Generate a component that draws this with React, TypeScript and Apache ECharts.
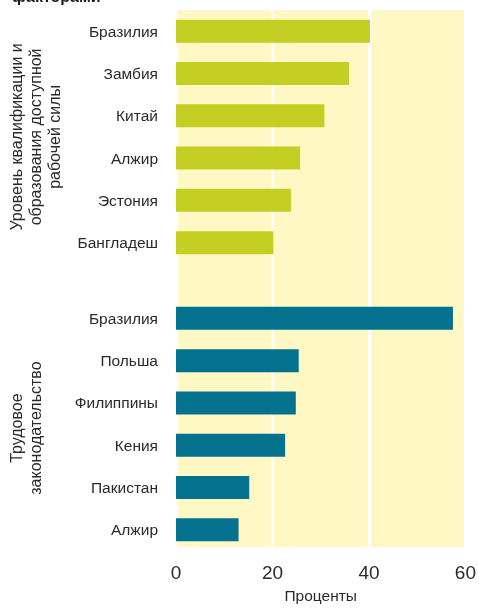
import React, { useEffect, useRef } from "react";
import * as echarts from "echarts";

const skillCountries = ["Бразилия", "Замбия", "Китай", "Алжир", "Эстония", "Бангладеш"];
const skillValues = [40.0, 35.7, 30.6, 25.6, 23.7, 20.1];
const laborCountries = ["Бразилия", "Польша", "Филиппины", "Кения", "Пакистан", "Алжир"];
const laborValues = [57.1, 25.3, 24.7, 22.5, 15.1, 12.9];
const xTicks = [0, 20, 40, 60];
const groupLabels = ["Уровень квалификации и\nобразования доступной\nрабочей силы", "Трудовое\nзаконодательство"];
const titleText = "факторами";
const xAxisTitle = "Проценты";

const FONT = "'Liberation Sans', Arial, Helvetica, sans-serif";
const LIME = "#C4CE23";
const TEAL = "#04728F";
const BG = "#FFF8C4";
const TEXT = "#2a2a2a";

export default function App() {
  const ref = useRef<HTMLDivElement>(null);
  useEffect(() => {
    if (!ref.current) return;
    const chart = echarts.init(ref.current, null, { renderer: "svg" });
    const left = 176;
    const top = 10;
    const width = 291;
    const bottomEdge = 551;
    const slot = 42.3;
    const gh = slot * 6;
    const yLabel = {
      fontFamily: FONT,
      fontSize: 15.5,
      color: TEXT,
      margin: 18,
    };
    chart.setOption({
      animation: false,
      grid: [
        { left, top, width, height: bottomEdge - top, show: true, backgroundColor: BG, borderWidth: 0 },
        { left, top, width, height: gh },
        { left, top: bottomEdge - gh, width, height: gh },
      ],
      xAxis: [
        {
          gridIndex: 0,
          type: "value",
          min: xTicks[0],
          max: xTicks[xTicks.length - 1],
          interval: 20,
          axisLine: { show: false },
          axisTick: { show: false },
          splitLine: { show: true, lineStyle: { color: "#ffffff", width: 3 } },
          axisLabel: { fontFamily: FONT, fontSize: 19, color: TEXT, margin: 16 },
          name: xAxisTitle,
          nameLocation: "middle",
          nameGap: 40,
          nameTextStyle: { fontFamily: FONT, fontSize: 15.5, color: TEXT, verticalAlign: "top" },
        },
        { gridIndex: 1, type: "value", min: 0, max: 60, show: false },
        { gridIndex: 2, type: "value", min: 0, max: 60, show: false },
      ],
      yAxis: [
        { gridIndex: 0, type: "value", show: false },
        {
          gridIndex: 1,
          type: "category",
          inverse: true,
          data: skillCountries,
          axisLine: { show: false },
          axisTick: { show: false },
          splitLine: { show: false },
          axisLabel: yLabel,
        },
        {
          gridIndex: 2,
          type: "category",
          inverse: true,
          data: laborCountries,
          axisLine: { show: false },
          axisTick: { show: false },
          splitLine: { show: false },
          axisLabel: yLabel,
        },
      ],
      series: [
        {
          type: "bar",
          xAxisIndex: 1,
          yAxisIndex: 1,
          data: skillValues,
          barWidth: 23,
          itemStyle: { color: LIME },
        },
        {
          type: "bar",
          xAxisIndex: 2,
          yAxisIndex: 2,
          data: laborValues,
          barWidth: 23,
          itemStyle: { color: TEAL },
        },
      ],
      graphic: [
        {
          type: "text",
          x: 12,
          y: 4.5,
          style: {
            text: titleText,
            font: `bold 16px ${FONT}`,
            fill: "#1a1a1a",
            textAlign: "left",
            textVerticalAlign: "bottom",
          },
        },
        {
          type: "text",
          x: 35,
          y: top + gh / 2,
          rotation: Math.PI / 2,
          style: {
            text: groupLabels[0],
            font: `16px ${FONT}`,
            lineHeight: 19,
            fill: TEXT,
            textAlign: "center",
            textVerticalAlign: "middle",
          },
        },
        {
          type: "text",
          x: 26,
          y: bottomEdge - gh / 2 + 4,
          rotation: Math.PI / 2,
          style: {
            text: groupLabels[1],
            font: `16px ${FONT}`,
            lineHeight: 19,
            fill: TEXT,
            textAlign: "center",
            textVerticalAlign: "middle",
          },
        },
      ],
    });
    return () => chart.dispose();
  }, []);
  return <div ref={ref} style={{ position: "fixed", left: 0, top: 0, width: 479, height: 608 }} />;
}
